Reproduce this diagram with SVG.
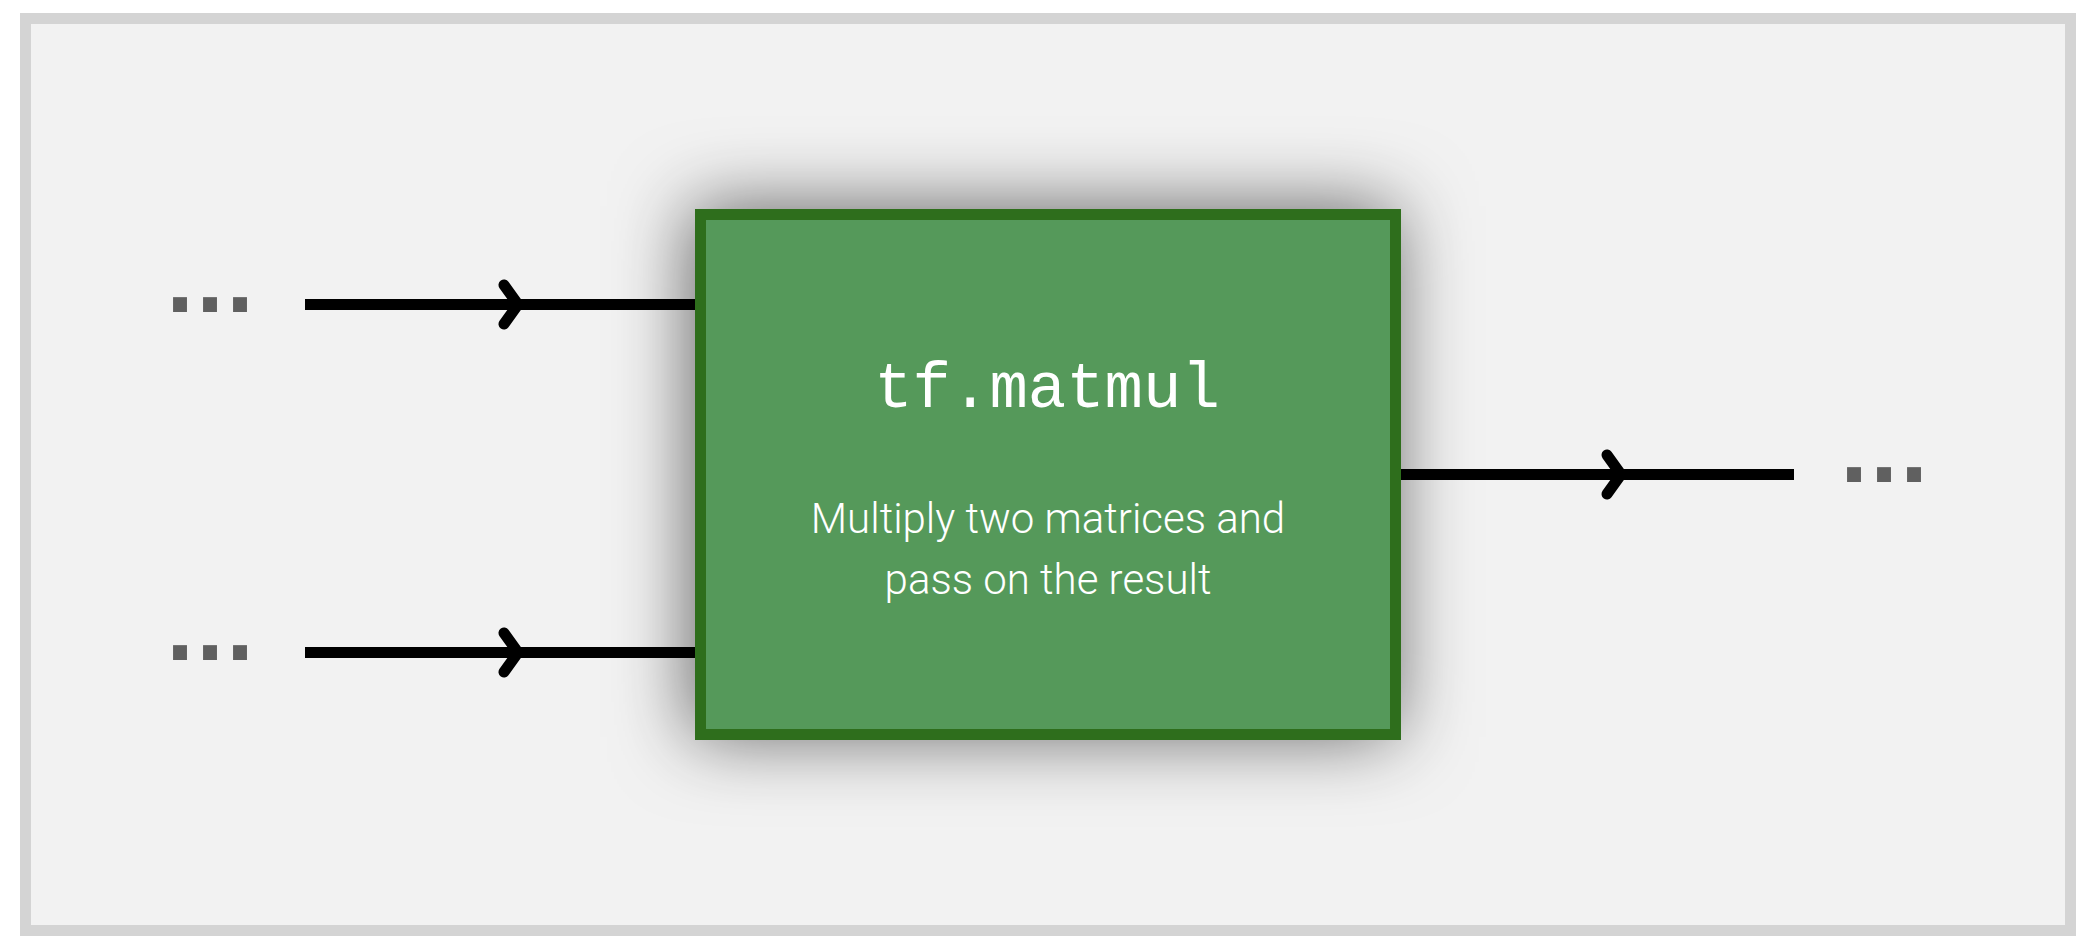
<svg xmlns="http://www.w3.org/2000/svg" width="2094" height="950" viewBox="0 0 2094 950">
<style>
.dots{font-family:"DejaVu Sans",sans-serif;font-weight:bold;font-size:79px;fill:#606060}
.conn{stroke:#000;stroke-width:11;fill:none}
.title{font-family:"Liberation Mono","Courier New",monospace;font-size:64px;fill:#fff}
.desc{font-family:Roboto,"Liberation Sans",sans-serif;font-weight:300;font-size:42px;fill:#fff}
</style>
<defs>
<marker id="chev" markerUnits="userSpaceOnUse" markerWidth="60" markerHeight="60" viewBox="-30 -30 60 60" refX="0" refY="0" orient="auto" overflow="visible">
<path d="M-14,-19.5 L0,0 L-14,19.5" fill="none" stroke="#000" stroke-width="11" stroke-linecap="round" stroke-linejoin="round"/>
</marker>
<filter id="shadow" x="-30%" y="-40%" width="160%" height="180%">
<feDropShadow dx="-5" dy="-3" stdDeviation="38" flood-color="#000" flood-opacity="0.58"/>
</filter>
</defs>
<rect x="25.5" y="18.5" width="2045" height="912" fill="#f2f2f2" stroke="#d4d4d4" stroke-width="11"/>
<g id="connectors">
<path class="conn" d="M305,304.5 L518,304.5 L695,304.5" marker-mid="url(#chev)"/>
<path class="conn" d="M305,652.5 L518,652.5 L695,652.5" marker-mid="url(#chev)"/>
<path class="conn" d="M1401,474.5 L1621,474.5 L1794,474.5" marker-mid="url(#chev)"/>
</g>
<g id="input1"><text class="dots" x="165" y="312">...</text></g>
<g id="input2"><text class="dots" x="165" y="660">...</text></g>
<g id="output"><text class="dots" x="1839" y="482">...</text></g>
<g id="matmul">
<rect x="700.5" y="214.5" width="695" height="520" fill="#55995a" stroke="#2e6e1e" stroke-width="11" filter="url(#shadow)"/>
<text class="title" x="1047" y="407" text-anchor="middle">tf.matmul</text>
<text class="desc" x="1048" y="533" text-anchor="middle">Multiply two matrices and</text>
<text class="desc" x="1048" y="594" text-anchor="middle">pass on the result</text>
</g>
</svg>
